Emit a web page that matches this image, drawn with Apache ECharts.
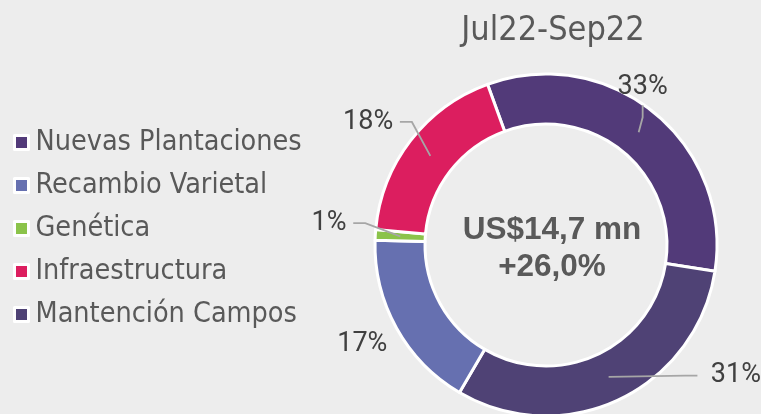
<!DOCTYPE html>
<html>
<head>
<meta charset="utf-8">
<script src="https://cdn.jsdelivr.net/npm/echarts@6/dist/echarts.min.js"></script>
<style>
    html, body { margin: 0; padding: 0; background: #ededed; }
    #main { width: 761px; height: 414px; }
</style>
</head>
<body>
<div id="main"></div>
<script>
    // datos del gráfico
    var categories = ['Nuevas Plantaciones', 'Recambio Varietal', 'Genética', 'Infraestructura', 'Mantención Campos'];
    var values = [33, 17, 1, 18, 31];
    var colors = ['#523a79', '#6670b0', '#8bc34a', '#dc1e5f', '#4f4275'];
    // orden de las porciones en el anillo (sentido horario)
    var ringOrder = ['Nuevas Plantaciones', 'Mantención Campos', 'Recambio Varietal', 'Genética', 'Infraestructura'];
    var periodo = 'Jul22-Sep22';
    var totalTexto = 'US$14,7 mn\n+26,0%';

    var chart = echarts.init(document.getElementById('main'));

    var cx = 546, cy = 245;
    var rIn = 121, rOut = 171;
    var rMid = (rIn + rOut) / 2;
    var startAngle = 110; // grados, sentido echarts

    /*
      ubicación de las etiquetas:
      [ángulo horario desde arriba, radio, alineación, formato, alto de línea]
      los espacios del formato separan el texto de la línea
    */
    var labelPlace = {
        'Nuevas Plantaciones': [31.5, 185, 'center', '{d}%', 36],
        'Mantención Campos': [130.8, 200, 'left', '  {d}%', 27],
        'Recambio Varietal': [241.5, 209, 'center', '{d}%', 27],
        'Genética': [276.5, 194, 'right', '{d}% ', 27],
        'Infraestructura': [310.1, 191, 'right', '{d}% ', 27]
    };

    var polar = function (r, a) {
        var rad = a * Math.PI / 180;
        return [cx + r * Math.sin(rad), cy - r * Math.cos(rad)];
    };

    var pieData = ringOrder.map(function (name) {
        var i = categories.indexOf(name);
        return {
            name: name,
            value: values[i],
            itemStyle: { color: colors[i] }
        };
    });

    // anillo invisible a media altura, sólo para las etiquetas
    var labelData = ringOrder.map(function (name) {
        var i = categories.indexOf(name);
        var item = {
            name: name,
            value: values[i],
            label: { formatter: labelPlace[name][3], lineHeight: labelPlace[name][4] }
        };
        if (name === 'Recambio Varietal') item.labelLine = { show: false };
        return item;
    });

    var option = {
        backgroundColor: '#ededed',
        title: [{
            text: periodo,
            left: 548,
            top: 9,
            textAlign: 'center',
            textStyle: {
                fontFamily: "'DejaVu Sans Condensed', 'DejaVu Sans'",
                fontSize: 34,
                fontWeight: 'normal',
                color: '#595959'
            }
        }, {
            text: totalTexto,
            left: 547,
            top: 207,
            textAlign: 'center',
            textStyle: {
                fontFamily: "'Liberation Sans', Arial",
                fontSize: 31.5,
                fontWeight: 'bold',
                color: '#595959',
                lineHeight: 37
            }
        }],
        legend: {
            orient: 'vertical',
            left: 13,
            top: 128,
            padding: 0,
            icon: 'rect',
            itemWidth: 14,
            itemHeight: 14,
            itemGap: 14,
            data: categories,
            itemStyle: { borderColor: '#ffffff', borderWidth: 3 },
            textStyle: {
                fontFamily: "'DejaVu Sans Condensed', 'DejaVu Sans'",
                fontSize: 28.5,
                lineHeight: 28,
                color: '#595959',
                padding: [0, 0, 0, 2]
            }
        },
        series: [{
            type: 'pie',
            center: [cx, cy],
            radius: [rIn, rOut],
            startAngle: startAngle,
            clockwise: true,
            itemStyle: {
                borderColor: '#ffffff',
                borderWidth: 3
            },
            label: { show: false },
            labelLine: { show: false },
            emphasis: { scale: false },
            data: pieData
        }, {
            type: 'pie',
            center: [cx, cy],
            radius: [rMid - 2, rMid],
            startAngle: startAngle,
            clockwise: true,
            silent: true,
            z: 3,
            avoidLabelOverlap: false,
            itemStyle: { color: 'rgba(0,0,0,0)', borderWidth: 0 },
            label: {
                show: true,
                position: 'outside',
                fontFamily: 'Roboto',
                fontSize: 27,
                color: '#404040'
            },
            labelLine: {
                show: true,
                showAbove: true,
                length: 10,
                length2: 12,
                lineStyle: { color: '#a6a6a6', width: 1.8 }
            },
            labelLayout: function (params) {
                var d = labelData[params.dataIndex];
                var pl = labelPlace[d.name];
                var pos = polar(pl[1], pl[0]);
                return { x: pos[0], y: pos[1], align: pl[2], verticalAlign: 'middle' };
            },
            emphasis: { disabled: true },
            data: labelData
        }]
    };

    chart.setOption(option);
</script>
</body>
</html>
